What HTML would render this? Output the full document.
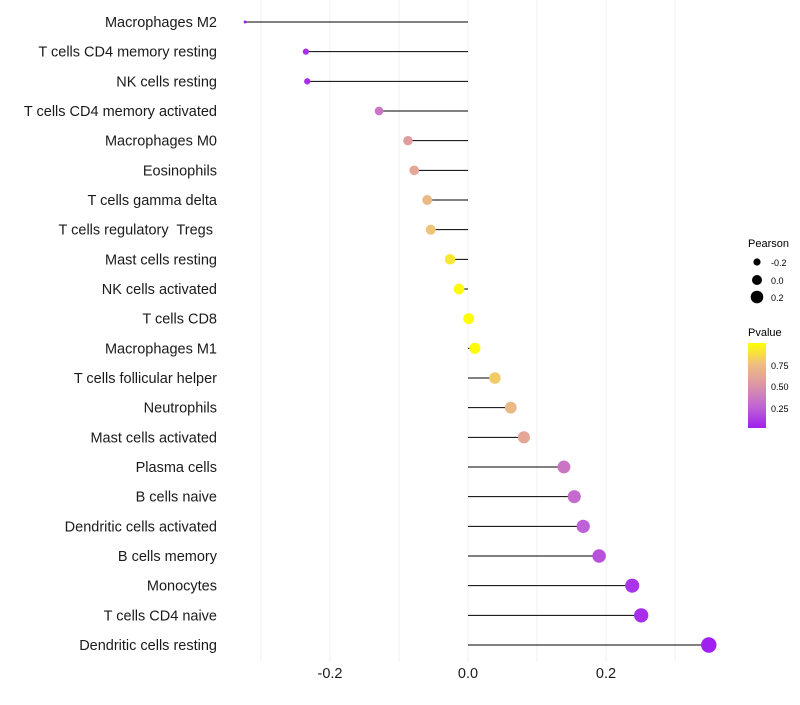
<!DOCTYPE html>
<html><head><meta charset="utf-8"><style>
body{margin:0;background:#fff;font-family:"Liberation Sans",sans-serif}
svg text{font-family:"Liberation Sans",sans-serif;white-space:pre}
</style></head><body>
<svg id="chart" width="800" height="700">
<defs><linearGradient id="pg" x1="0" y1="1" x2="0" y2="0">
<stop offset="0" stop-color="#a020f0"/><stop offset="0.25" stop-color="#c064d4"/>
<stop offset="0.5" stop-color="#dc94a8"/><stop offset="0.75" stop-color="#eebf80"/>
<stop offset="1" stop-color="#ffff00"/></linearGradient></defs>
<g id="grid"></g><g id="marks"></g><g id="labels"></g>
<g>
<text x="748" y="247" font-size="11">Pearson</text>
<circle cx="757" cy="262" r="3.6" fill="#000"/>
<text x="771" y="266" font-size="9">-0.2</text>
<circle cx="757" cy="280" r="5" fill="#000"/>
<text x="771" y="284" font-size="9">0.0</text>
<circle cx="757" cy="297" r="6.3" fill="#000"/>
<text x="771" y="301" font-size="9">0.2</text>
<text x="748" y="336" font-size="11">Pvalue</text>
<rect x="748" y="343" width="18" height="85" fill="url(#pg)"/>
<text x="771" y="369" font-size="9">0.75</text>
<text x="771" y="390" font-size="9">0.50</text>
<text x="771" y="412" font-size="9">0.25</text>
</g>
</svg>
<script>
const categories=["Macrophages M2","T cells CD4 memory resting","NK cells resting","T cells CD4 memory activated","Macrophages M0","Eosinophils","T cells gamma delta","T cells regulatory  Tregs ","Mast cells resting","NK cells activated","T cells CD8","Macrophages M1","T cells follicular helper","Neutrophils","Mast cells activated","Plasma cells","B cells naive","Dendritic cells activated","B cells memory","Monocytes","T cells CD4 naive","Dendritic cells resting"];
const pearson=[-0.323,-0.235,-0.233,-0.129,-0.087,-0.078,-0.059,-0.054,-0.026,-0.013,0.001,0.010,0.039,0.062,0.081,0.139,0.154,0.167,0.190,0.238,0.251,0.349];
const pvalues=[0.03,0.08,0.08,0.35,0.55,0.6,0.7,0.75,0.88,0.95,0.99,0.96,0.78,0.7,0.6,0.35,0.3,0.25,0.2,0.1,0.08,0.03];
const xTicks=[-0.2,0.0,0.2];
const xGrid=[-0.3,-0.2,-0.1,0,0.1,0.2,0.3];
const NS="http://www.w3.org/2000/svg";
const xs=v=>468+v*690;
const ys=i=>22+i*(623/21);
const rs=v=>Math.sqrt(Math.max(0.5,2.25+85*(v+0.323)));
const stops=[[0,[160,32,240]],[0.25,[192,100,212]],[0.5,[220,148,168]],[0.75,[238,191,128]],[1,[255,255,0]]];
function col(p){let t=(p-0.03)/(0.97-0.03);t=Math.max(0,Math.min(1,t));
for(let k=1;k<stops.length;k++){if(t<=stops[k][0]){const a=stops[k-1],b=stops[k],f=(t-a[0])/(b[0]-a[0]);
return 'rgb('+a[1].map((c,j)=>Math.round(c+(b[1][j]-c)*f)).join(',')+')';}}return 'rgb(255,255,0)';}
function mk(t,at,parent){const e=document.createElementNS(NS,t);for(const k in at)e.setAttribute(k,at[k]);parent.appendChild(e);return e;}
const g=document.getElementById('grid'),m=document.getElementById('marks'),l=document.getElementById('labels');
xGrid.forEach(v=>{const e=mk('line',{x1:xs(v),x2:xs(v),y1:0,y2:662,stroke:'#f0f0f0','stroke-width':1},g);

});
xTicks.forEach(v=>{const e=mk('text',{x:xs(v),y:678,'font-size':14.5,'text-anchor':'middle',fill:'#1a1a1a'},l);e.textContent=v.toFixed(1);

});
categories.forEach((c,i)=>{
const y=ys(i);
const t=mk('text',{x:217,y:y+5,'font-size':14.5,'text-anchor':'end',fill:'#1a1a1a'},l);t.textContent=c;


const ln=mk('line',{x1:xs(0),x2:xs(pearson[i]),y1:y,y2:y,stroke:'#000','stroke-width':1},m);


const p=mk('circle',{cx:xs(pearson[i]),cy:y,r:rs(pearson[i]),fill:col(pvalues[i])},m);


});
</script>
</body></html>
